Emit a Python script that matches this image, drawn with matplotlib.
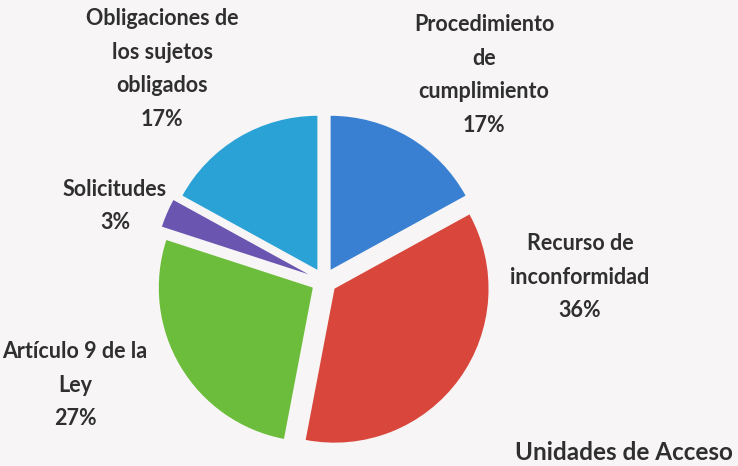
import matplotlib
matplotlib.use("Agg")
import matplotlib.pyplot as plt

categories = ["Procedimiento\nde\ncumplimiento", "Recurso de\ninconformidad",
              "Artículo 9 de la\nLey", "Solicitudes", "Obligaciones de\nlos sujetos\nobligados"]
values = [17, 36, 27, 3, 17]
colors = ["#3a80d2", "#d9463b", "#6dbd3c", "#6a56b0", "#2ba2d6"]
explode_px = [13, 13, 13, 17, 13]
label_pos = [(484, 75), (580, 277), (75, 385), (115, 206), (162, 69)]
title = "Unidades de Acceso"

W, H = 738, 466
bg = "#f7f5f5"
fig = plt.figure(figsize=(W / 100, H / 100), dpi=100, facecolor=bg)
ax = fig.add_axes([0, 0, 1, 1])
ax.set_facecolor(bg)

cx, cy, r = 324, H - 281, 154
ax.pie(values, colors=colors, explode=explode_px, startangle=90, counterclock=False,
       center=(cx, cy), radius=r, frame=True,
       wedgeprops=dict(linewidth=0))
ax.set_xlim(0, W)
ax.set_ylim(0, H)
ax.set_aspect("equal")
ax.axis("off")

tc = "#2f2f2f"
for lab, v, (x, y) in zip(categories, values, label_pos):
    ax.text(x, H - y, f"{lab}\n{v}%", ha="center", va="center", fontsize=15.5,
            fontweight="bold", family="Lato", color=tc, linespacing=1.75)

ax.text(515, H - 452, title, ha="left", va="center", fontsize=17.5,
        fontweight="bold", family="Lato", color=tc)

fig.savefig("out.png", dpi=100, facecolor=bg)
